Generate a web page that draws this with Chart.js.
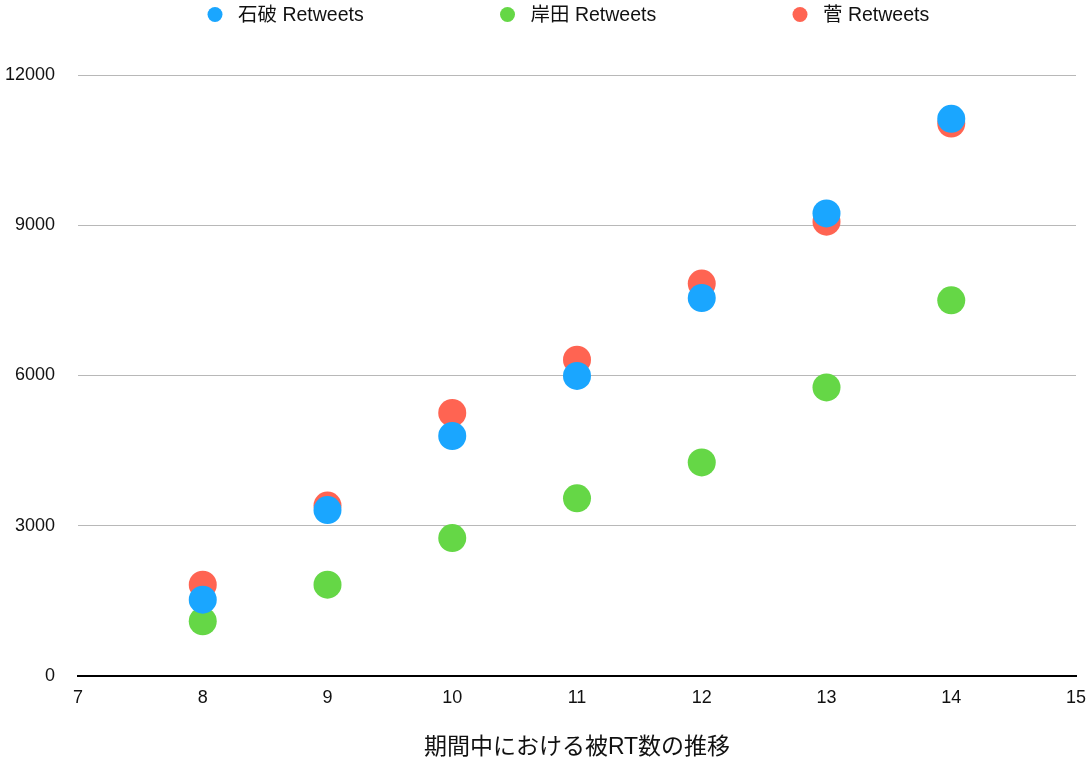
<!DOCTYPE html>
<html>
<head>
<meta charset="utf-8">
<script src="https://cdn.jsdelivr.net/npm/chart.js@4"></script>
<style>
html,body{margin:0;padding:0;background:#fff;}
#wrap{width:1090px;height:770px;position:relative;}
</style>
</head>
<body>
<div id="wrap"><canvas id="c" width="1090" height="770"></canvas></div>
<script>
const xValues = [8, 9, 10, 11, 12, 13, 14];
const ishibaRT = [1520, 3310, 4790, 5990, 7545, 9235, 11125];
const kishidaRT = [1090, 1820, 2750, 3545, 4262, 5760, 7500];
const sugaRT = [1820, 3400, 5250, 6315, 7835, 9070, 11030];
const seriesNames = ['石破 Retweets', '岸田 Retweets', '菅 Retweets'];
const seriesColors = ['#1AA6FF', '#65D746', '#FF6452'];
const xTitle = '期間中における被RT数の推移';

const FONT = "'Liberation Sans', 'Noto Sans CJK JP', sans-serif";
const toPts = vals => vals.map((v, i) => ({x: xValues[i], y: v}));
const allSeries = [ishibaRT, kishidaRT, sugaRT];

// Legend drawn as a small plugin from the chart's own dataset labels/colours
const topLegend = {
  id: 'topLegend',
  afterDraw(chart) {
    const ctx = chart.ctx;
    const startX = 215, step = 292.5, cy = 14.5;
    ctx.save();
    ctx.font = '19.5px ' + FONT;
    ctx.textBaseline = 'middle';
    ctx.textAlign = 'left';
    chart.data.datasets.forEach((ds, i) => {
      const cx = startX + i * step;
      ctx.beginPath();
      ctx.fillStyle = ds.backgroundColor;
      ctx.arc(cx, cy, 7.5, 0, Math.PI * 2);
      ctx.fill();
      ctx.fillStyle = '#111';
      ctx.fillText(ds.label, cx + 23, cy + 1);
    });
    ctx.restore();
  }
};

new Chart(document.getElementById('c'), {
  type: 'scatter',
  data: {
    datasets: allSeries.map((vals, i) => ({
      label: seriesNames[i],
      data: toPts(vals),
      backgroundColor: seriesColors[i],
      borderColor: seriesColors[i],
      borderWidth: 0,
      pointRadius: 14,
      pointHoverRadius: 14
    }))
  },
  options: {
    responsive: false,
    animation: false,
    devicePixelRatio: 1,
    layout: {padding: {left: 5, right: 0, top: 75, bottom: 9}},
    plugins: {
      tooltip: {enabled: false},
      legend: {display: false}
    },
    scales: {
      x: {
        type: 'linear',
        min: 7, max: 15,
        afterFit(scale) {
          scale.paddingRight = 12;
          if (scale._margins) scale._margins.right = 12;
        },
        ticks: {stepSize: 1, color: '#111', padding: 0, font: {family: FONT, size: 18}},
        grid: {display: true, drawOnChartArea: false, drawTicks: true, tickLength: 11, color: 'rgba(0,0,0,0)'},
        border: {display: true, color: '#000', width: 2},
        title: {display: true, text: xTitle, color: '#111', font: {family: FONT, size: 23}, padding: {top: 25, bottom: 0}}
      },
      y: {
        min: 0, max: 12000,
        afterFit(scale) { scale.width = 73; },
        ticks: {stepSize: 3000, color: '#111', padding: 23, font: {family: FONT, size: 18},
                callback: v => String(v)},
        grid: {color: '#b8b8b8', lineWidth: 1, drawTicks: false},
        border: {display: false}
      }
    }
  },
  plugins: [topLegend]
});
</script>
</body>
</html>
